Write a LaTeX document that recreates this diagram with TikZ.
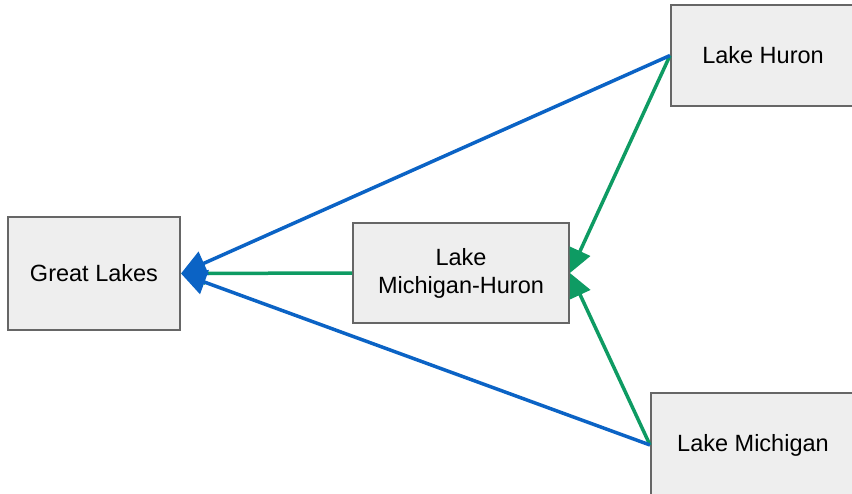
\documentclass[tikz,border=0pt]{standalone}
\usepackage{fontspec}
\setmainfont{Liberation Sans}
\usetikzlibrary{arrows.meta}
\definecolor{lblue}{HTML}{0B63C5}
\definecolor{lgreen}{HTML}{0E9B63}
\definecolor{boxfill}{HTML}{EEEEEE}
\definecolor{boxline}{HTML}{666666}
\begin{document}
\begin{tikzpicture}[x=1pt,y=-1pt,
  lakebox/.style={draw=boxline,fill=boxfill,line width=2pt,inner sep=0pt,
    align=center,font=\fontsize{23.5}{28}\selectfont},
  blueline/.style={draw=lblue,line width=3.5pt,-{Triangle[length=25pt,width=25pt]}},
  greenline/.style={draw=lgreen,line width=3.5pt,-{Triangle[length=24pt,width=22pt]}}]
\useasboundingbox (0,0) rectangle (852,493);
\clip (0,0) rectangle (852,493);
\node[lakebox,minimum width=172pt,minimum height=113pt] (gl) at (94,273.5) {Great Lakes};
\node[lakebox,minimum width=216pt,minimum height=100pt] (mh) at (461,273) {Lake\\Michigan-Huron};
\node[lakebox,minimum width=184pt,minimum height=101pt] (hu) at (763,55.5) {Lake Huron};
\node[lakebox,minimum width=204pt,minimum height=104pt] (mi) at (753,445) {Lake Michigan};
\draw[greenline] (mh.west) -- (gl.east);
\draw[greenline] (hu.west) -- (mh.east);
\draw[greenline] (mi.west) -- (mh.east);
\draw[blueline] (hu.west) -- (gl.east);
\draw[blueline] (mi.west) -- (gl.east);
\end{tikzpicture}
\end{document}
